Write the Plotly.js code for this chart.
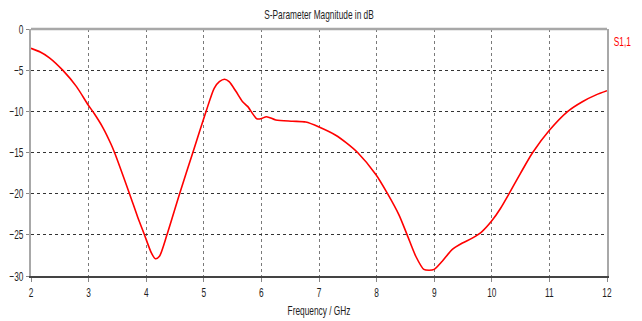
<!DOCTYPE html>
<html>
<head>
<meta charset="utf-8">
<script src="https://cdn.plot.ly/plotly-3.0.1.min.js"></script>
<style>html,body{margin:0;padding:0;background:#fff;}#chart{width:642px;height:321px;}</style>
</head>
<body>
<div id="chart"></div>
<script>
var freqGHz = [2.0, 2.16, 2.32, 2.55, 2.79, 2.99, 3.10, 3.25, 3.39, 3.45, 3.71, 3.85, 3.97, 4.09, 4.16, 4.23, 4.36, 4.58, 4.81, 5.04, 5.18, 5.27, 5.36, 5.44, 5.56, 5.67, 5.76, 5.92, 5.99, 6.09, 6.25, 6.54, 6.77, 7.0, 7.29, 7.47, 7.67, 7.99, 8.19, 8.39, 8.53, 8.68, 8.82, 8.91, 9.0, 9.14, 9.31, 9.49, 9.66, 9.83, 10.0, 10.15, 10.30, 10.50, 10.71, 11.0, 11.32, 11.58, 11.81, 12.0];
var s11dB = [-2.35, -2.8, -3.5, -5.0, -7.0, -9.2, -10.3, -12.0, -14.0, -15.0, -20.0, -22.8, -25.0, -27.2, -27.9, -27.6, -25.0, -20.0, -15.0, -10.0, -7.2, -6.4, -6.1, -6.4, -7.6, -8.8, -9.4, -10.9, -10.9, -10.65, -11.05, -11.2, -11.3, -11.9, -12.9, -13.8, -15.0, -17.7, -20.0, -22.6, -25.0, -27.6, -29.2, -29.3, -29.2, -28.2, -26.8, -26.0, -25.4, -24.6, -23.3, -21.8, -20.0, -17.5, -15.0, -12.3, -10.0, -8.8, -8.0, -7.5];
var seriesName = 'S1,1';
var chartTitle = 'S-Parameter Magnitude in dB';
var xTitle = 'Frequency / GHz';

var fontFam = '"Liberation Sans", Arial, sans-serif';
var textColor = '#1e1e1e';

var trace = {
  x: freqGHz, y: s11dB, name: seriesName, type: 'scatter', mode: 'lines',
  line: {color: '#ff0000', width: 1.6, shape: 'spline', smoothing: 0.7},
  showlegend: false, hoverinfo: 'skip'
};

var layout = {
  width: 642, height: 321,
  margin: {l: 31, r: 34.5, t: 29, b: 44.5, pad: 0},
  paper_bgcolor: '#ffffff', plot_bgcolor: '#ffffff',
  font: {family: fontFam, size: 13, color: textColor},
  title: {text: chartTitle, font: {family: fontFam, size: 13, color: textColor}, x: 0.5, xanchor: 'center', y: 0.955, yanchor: 'middle', xref: 'paper'},
  xaxis: {
    range: [2, 12], dtick: 1, tick0: 2,
    showgrid: true, gridcolor: '#7a7a7a', griddash: 'dot', gridwidth: 1,
    showline: true, linecolor: '#444', linewidth: 1.5,
    ticks: 'outside', ticklen: 4, tickcolor: '#888', tickwidth: 1,
    zeroline: false,
    tickfont: {family: fontFam, size: 13, color: textColor},
    title: {text: xTitle, font: {family: fontFam, size: 13, color: textColor}, standoff: 7}
  },
  yaxis: {
    range: [-30, 0], dtick: 5, tick0: 0,
    showgrid: true, gridcolor: '#333', griddash: 'dot', gridwidth: 1,
    showline: true, linecolor: '#a8a8a8', linewidth: 2, mirror: true,
    ticks: 'outside', ticklen: 3, tickcolor: '#888', tickwidth: 1,
    zeroline: false,
    tickfont: {family: fontFam, size: 13, color: textColor}
  },
  shapes: [
    {type: 'line', xref: 'paper', yref: 'paper', x0: 0, x1: 1, y0: 1, y1: 1, line: {color: '#a8a8a8', width: 2.5}}
  ],
  annotations: [
    {text: seriesName, xref: 'paper', yref: 'paper', x: 1, y: 1, xanchor: 'left', yanchor: 'top', xshift: 1, yshift: -4, borderpad: 0, showarrow: false, font: {family: fontFam, size: 13, color: '#ff0000'}}
  ]
};

function condenseText(gd, factor) {
  var texts = gd.querySelectorAll('svg text');
  texts.forEach(function (el) {
    if (!el.textContent) return;
    var len = el.getComputedTextLength();
    if (len > 0) {
      el.setAttribute('textLength', (len * factor).toFixed(2));
      el.setAttribute('lengthAdjust', 'spacingAndGlyphs');
    }
  });
  // shrink annotation background boxes to match the condensed text
  gd.querySelectorAll('g.annotation-text-g rect.bg').forEach(function (r) {
    var w = parseFloat(r.getAttribute('width')) || 0;
    var x = parseFloat(r.getAttribute('x')) || 0;
    var nw = w * factor;
    r.setAttribute('x', (x + (w - nw) / 2).toFixed(2));
    r.setAttribute('width', nw.toFixed(2));
  });
}

Plotly.newPlot('chart', [trace], layout, {displayModeBar: false, staticPlot: true}).then(function (gd) {
  condenseText(gd, 0.64);
});
</script>
</body>
</html>
